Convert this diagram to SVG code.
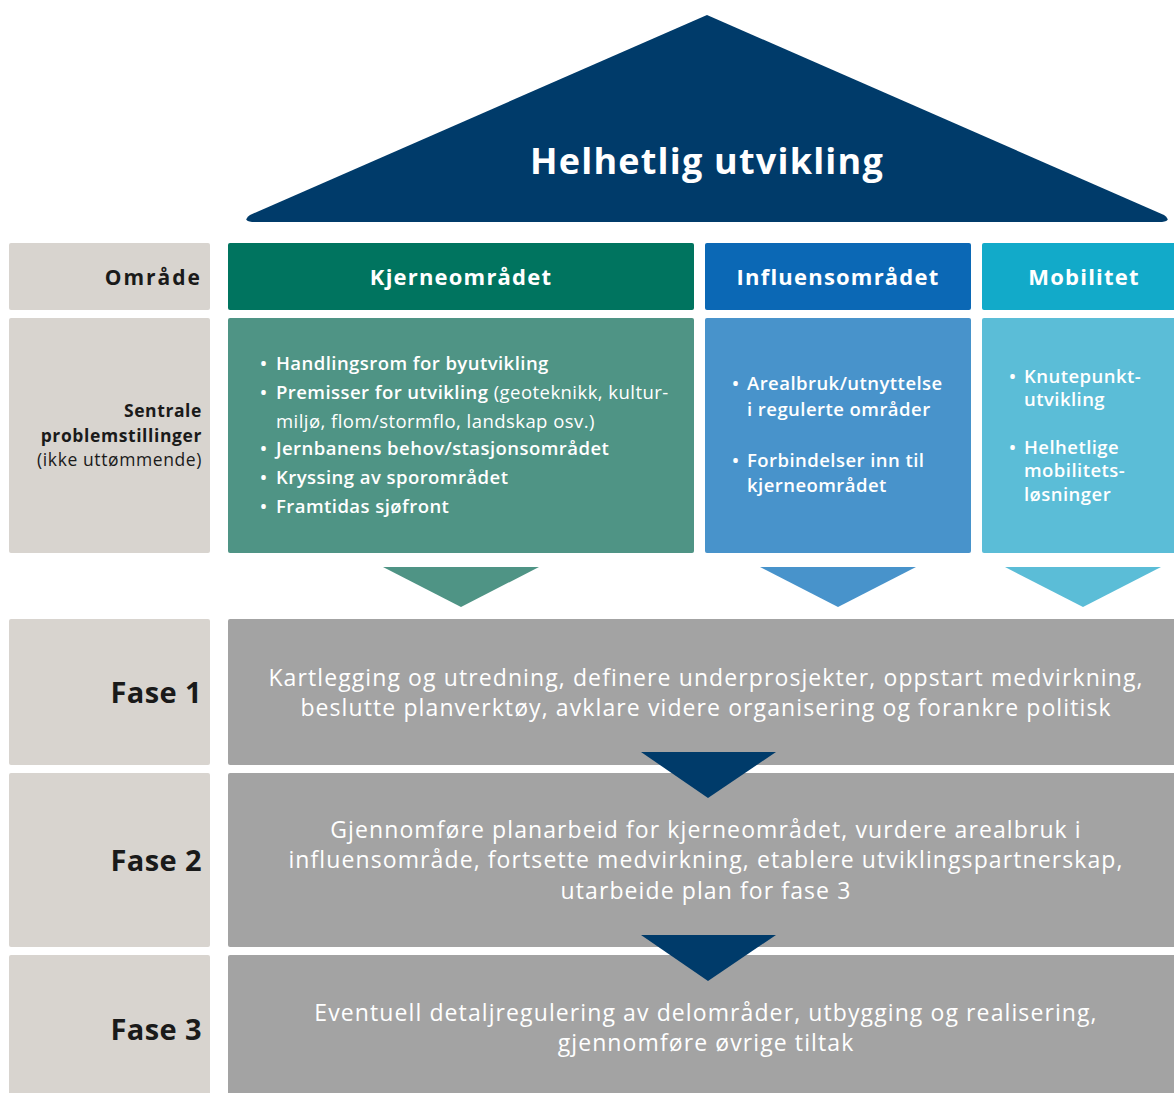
<svg xmlns="http://www.w3.org/2000/svg" width="1174" height="1093" viewBox="0 0 1174 1093">
<style>
  text { font-family: "Open Sans", "Liberation Sans", sans-serif; }
  .lbl { fill: #1a1a1a; font-weight: 700; text-anchor: end; }
  .sm { font-size: 17.5px; letter-spacing: 0.6px; }
  .hdr { fill: #ffffff; font-weight: 700; text-anchor: middle; font-size: 22px; letter-spacing: 1.2px; }
  .body { fill: #ffffff; font-size: 18.5px; font-weight: 600; letter-spacing: 0.45px; }
  .light { font-weight: 400; }
  .phase { fill: #ffffff; font-size: 23px; text-anchor: middle; font-weight: 500; letter-spacing: 1.1px; }
  .fase { fill: #1a1a1a; font-weight: 700; text-anchor: end; font-size: 29px; letter-spacing: 0.4px; }
  .side { fill: #d8d4cf; }
  .grey { fill: #a3a3a3; }
</style>
<rect width="1174" height="1093" fill="#ffffff"/>

<g id="roof">
  <path d="M707,15 L1164,215 Q1172,221 1162,222 L252,222 Q242,221 250,215 Z" fill="#003b6a"/>
  <text x="707" y="174" fill="#ffffff" font-size="36" font-weight="700" text-anchor="middle" letter-spacing="1.2">Helhetlig utvikling</text>
</g>

<g id="label-omrade">
  <rect class="side" x="9" y="243" width="201" height="67" rx="2"/>
  <text class="lbl" x="202" y="285" font-size="21" letter-spacing="2">Område</text>
</g>
<g id="label-sentrale">
  <rect class="side" x="9" y="318" width="201" height="235" rx="2"/>
  <text class="lbl sm" x="202" y="417">Sentrale</text>
  <text class="lbl sm" x="202" y="442">problemstillinger</text>
  <text class="lbl sm" x="202" y="466" style="font-weight:400">(ikke uttømmende)</text>
</g>

<g id="kjerne-header">
  <rect x="228" y="243" width="466" height="67" rx="2" fill="#00745f"/>
  <text class="hdr" x="461" y="285">Kjerneområdet</text>
</g>
<g id="kjerne-body">
  <rect x="228" y="318" width="466" height="235" rx="2" fill="#4f9485"/>
  <text class="body" x="260" y="370">•</text>
  <text class="body" x="276" y="370">Handlingsrom for byutvikling</text>
  <text class="body" x="260" y="399">•</text>
  <text class="body" x="276" y="399">Premisser for utvikling <tspan class="light">(geoteknikk, kultur-</tspan></text>
  <text class="body light" x="276" y="428">miljø, flom/stormflo, landskap osv.)</text>
  <text class="body" x="260" y="455">•</text>
  <text class="body" x="276" y="455">Jernbanens behov/stasjonsområdet</text>
  <text class="body" x="260" y="484">•</text>
  <text class="body" x="276" y="484">Kryssing av sporområdet</text>
  <text class="body" x="260" y="513">•</text>
  <text class="body" x="276" y="513">Framtidas sjøfront</text>
</g>

<g id="influens-header">
  <rect x="705" y="243" width="266" height="67" rx="2" fill="#0b68b5"/>
  <text class="hdr" x="838" y="285">Influensområdet</text>
</g>
<g id="influens-body">
  <rect x="705" y="318" width="266" height="235" rx="2" fill="#4893cb"/>
  <text class="body" x="732" y="390">•</text>
  <text class="body" x="747" y="390">Arealbruk/utnyttelse</text>
  <text class="body" x="747" y="416">i regulerte områder</text>
  <text class="body" x="732" y="467">•</text>
  <text class="body" x="747" y="467">Forbindelser inn til</text>
  <text class="body" x="747" y="492">kjerneområdet</text>
</g>

<g id="mobilitet-header">
  <rect x="982" y="243" width="200" height="67" rx="2" fill="#12aac9"/>
  <text class="hdr" x="1084" y="285">Mobilitet</text>
</g>
<g id="mobilitet-body">
  <rect x="982" y="318" width="200" height="235" rx="2" fill="#5bbdd7"/>
  <text class="body" x="1009" y="383">•</text>
  <text class="body" x="1024" y="383">Knutepunkt-</text>
  <text class="body" x="1024" y="406">utvikling</text>
  <text class="body" x="1009" y="454">•</text>
  <text class="body" x="1024" y="454">Helhetlige</text>
  <text class="body" x="1024" y="477">mobilitets-</text>
  <text class="body" x="1024" y="501">løsninger</text>
</g>

<g id="label-fase1">
  <rect class="side" x="9" y="619" width="201" height="146" rx="2"/>
  <text class="fase" x="202" y="703">Fase 1</text>
</g>
<g id="fase1">
  <rect class="grey" x="228" y="619" width="954" height="146" rx="2"/>
  <text class="phase" x="706" y="686">Kartlegging og utredning, definere underprosjekter, oppstart medvirkning,</text>
  <text class="phase" x="706" y="716">beslutte planverktøy, avklare videre organisering og forankre politisk</text>
</g>

<g id="label-fase2">
  <rect class="side" x="9" y="773" width="201" height="174" rx="2"/>
  <text class="fase" x="202" y="871">Fase 2</text>
</g>
<g id="fase2">
  <rect class="grey" x="228" y="773" width="954" height="174" rx="2"/>
  <text class="phase" x="706" y="838">Gjennomføre planarbeid for kjerneområdet, vurdere arealbruk i</text>
  <text class="phase" x="706" y="868">influensområde, fortsette medvirkning, etablere utviklingspartnerskap,</text>
  <text class="phase" x="706" y="899">utarbeide plan for fase 3</text>
</g>

<g id="label-fase3">
  <rect class="side" x="9" y="955" width="201" height="150" rx="2"/>
  <text class="fase" x="202" y="1040">Fase 3</text>
</g>
<g id="fase3">
  <rect class="grey" x="228" y="955" width="954" height="150" rx="2"/>
  <text class="phase" x="706" y="1021">Eventuell detaljregulering av delområder, utbygging og realisering,</text>
  <text class="phase" x="706" y="1051">gjennomføre øvrige tiltak</text>
</g>

<g id="connectors">
  <polygon points="383,567 539,567 461,607" fill="#4f9485"/>
  <polygon points="760,567 916,567 838,607" fill="#4893cb"/>
  <polygon points="1005,567 1161,567 1083,607" fill="#5bbdd7"/>
  <polygon points="641,752 776,752 708,798" fill="#003b6a"/>
  <polygon points="641,935 776,935 708,981" fill="#003b6a"/>
</g>
</svg>
